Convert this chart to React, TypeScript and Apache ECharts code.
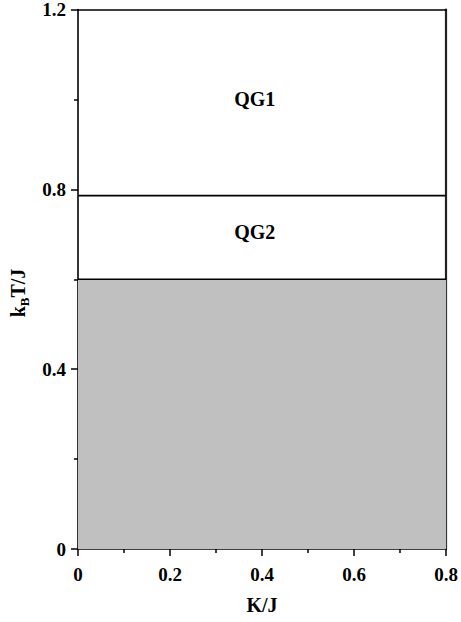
import React, { useEffect, useRef } from "react";
import * as echarts from "echarts";

const xRange = [0, 0.8];
const yRange = [0, 1.2];
const boundaryQG1 = 0.786;
const boundaryQG2 = 0.6;
const regionLabels = ["QG1", "QG2"];
const regionLabelPos = [
  [0.384, 1.0],
  [0.384, 0.705],
];

const FONT = "'Liberation Serif', 'Times New Roman', serif";

export default function App() {
  const ref = useRef<HTMLDivElement>(null);
  useEffect(() => {
    if (!ref.current) return;
    const chart = echarts.init(ref.current, null, { renderer: "svg" });
    const axisCommon = {
      axisLine: { show: true, onZero: false, lineStyle: { color: "#000", width: 1.6 } },
      splitLine: { show: false },
    };
    chart.setOption({
      animation: false,
      backgroundColor: "#fff",
      grid: { left: 78, right: 11, top: 7.5, bottom: 73, containLabel: false },
      graphic: [
        {
          type: "text",
          x: 18,
          y: 293,
          rotation: Math.PI / 2,
          style: {
            text: "{m|k}{s|B}{m|T/J}",
            align: "center",
            verticalAlign: "middle",
            fill: "#000",
            font: `bold 20px ${FONT}`,
            rich: {
              m: { fontFamily: FONT, fontWeight: "bold", fontSize: 20, fill: "#000" },
              s: { fontFamily: FONT, fontWeight: "bold", fontSize: 13, fill: "#000", padding: [12, 0, 0, 0] },
            },
          },
        },
      ],
      xAxis: [
        {
          type: "value",
          min: xRange[0],
          max: xRange[1],
          interval: 0.2,
          position: "bottom",
          ...axisCommon,
          axisTick: { show: true, inside: false, length: 7, lineStyle: { color: "#000", width: 1.5 } },
          minorTick: { show: true, splitNumber: 2, length: 4, lineStyle: { color: "#000", width: 1.5 } },
          axisLabel: {
            margin: 16,
            color: "#000",
            fontFamily: FONT,
            fontWeight: "bold",
            fontSize: 19,
            formatter: (v: number) => (v === 0 ? "0" : String(Math.round(v * 10) / 10)),
          },
          name: "K/J",
          nameLocation: "middle",
          nameGap: 46,
          nameTextStyle: { color: "#000", fontFamily: FONT, fontWeight: "bold", fontSize: 20 },
        },
        {
          type: "value",
          min: xRange[0],
          max: xRange[1],
          position: "top",
          ...axisCommon,
          axisTick: { show: false },
          axisLabel: { show: false },
        },
      ],
      yAxis: [
        {
          type: "value",
          min: yRange[0],
          max: yRange[1],
          interval: 0.4,
          position: "left",
          ...axisCommon,
          axisTick: { show: true, inside: false, length: 7, lineStyle: { color: "#000", width: 1.5 } },
          minorTick: { show: true, splitNumber: 2, length: 4, lineStyle: { color: "#000", width: 1.5 } },
          axisLabel: {
            margin: 12,
            color: "#000",
            fontFamily: FONT,
            fontWeight: "bold",
            fontSize: 19,
            formatter: (v: number) => (v === 0 ? "0" : String(Math.round(v * 10) / 10)),
          },
        },
        {
          type: "value",
          min: yRange[0],
          max: yRange[1],
          position: "right",
          ...axisCommon,
          axisLine: { show: true, onZero: false, lineStyle: { color: "#222", width: 2.2 } },
          axisTick: { show: false },
          axisLabel: { show: false },
        },
      ],
      series: [
        {
          type: "line",
          data: [
            [xRange[0], boundaryQG2],
            [xRange[1], boundaryQG2],
          ],
          symbol: "none",
          lineStyle: { color: "#000", width: 1.6 },
          areaStyle: { color: "#c0c0c0", opacity: 1, origin: "start" },
          z: 1,
        },
        {
          type: "line",
          data: [
            [xRange[0], boundaryQG1],
            [xRange[1], boundaryQG1],
          ],
          symbol: "none",
          lineStyle: { color: "#000", width: 1.6 },
          z: 2,
        },
        {
          type: "custom",
          data: regionLabelPos,
          encode: { x: 0, y: 1 },
          renderItem: (params: any, api: any) => {
            const p = api.coord([api.value(0), api.value(1)]);
            return {
              type: "text",
              x: p[0],
              y: p[1],
              style: {
                text: regionLabels[params.dataIndex],
                fill: "#000",
                font: `bold 20px ${FONT}`,
                align: "center",
                verticalAlign: "middle",
              },
            };
          },
          silent: true,
          z: 3,
        },
      ],
    });
    return () => chart.dispose();
  }, []);
  return <div ref={ref} style={{ width: 461, height: 622, position: "absolute", left: 0, top: 0 }} />;
}
